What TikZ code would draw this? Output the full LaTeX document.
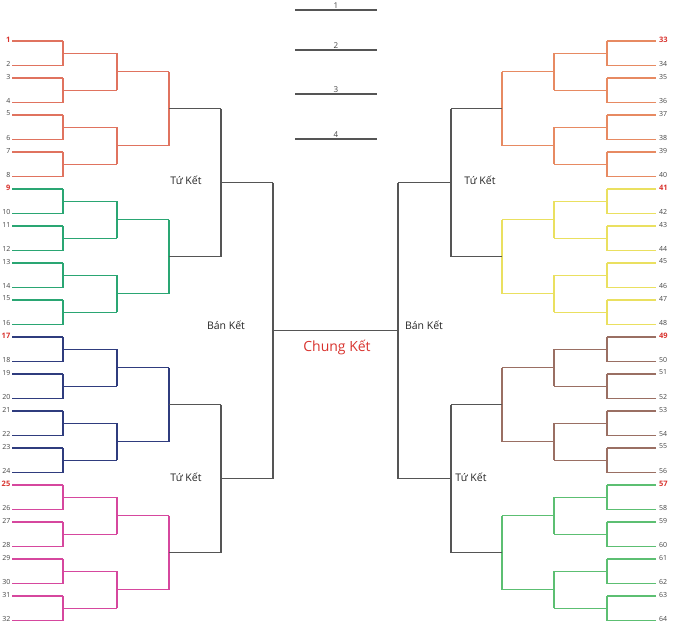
\documentclass[tikz,border=0pt]{standalone}
\usepackage{fontspec}
\setmainfont{Open Sans}
\usetikzlibrary{positioning,calc}

\definecolor{grp0}{HTML}{E0735F}
\definecolor{grp1}{HTML}{2AA673}
\definecolor{grp2}{HTML}{2F3C7E}
\definecolor{grp3}{HTML}{D6479E}
\definecolor{grp4}{HTML}{E78A62}
\definecolor{grp5}{HTML}{EAE060}
\definecolor{grp6}{HTML}{9A6F63}
\definecolor{grp7}{HTML}{5CBF72}
\definecolor{linegray}{HTML}{555555}
\definecolor{numgray}{HTML}{444444}
\definecolor{seedred}{HTML}{D8332E}

\tikzset{
  bline/.style={line width=1.2pt},
  num/.style={font=\fontsize{7}{8}\selectfont, text=numgray, inner sep=0pt},
  seednum/.style={font=\fontsize{7.5}{8}\selectfont\bfseries, text=seedred, inner sep=0pt},
  roundlbl/.style={font=\fontsize{10.5}{12}\selectfont, text=black!85},
}

\begin{document}
\begin{tikzpicture}[x=1pt,y=-1pt]
    \useasboundingbox (0,0) rectangle (673,624);

    % places 1-4
    \foreach \k/\y in {1/10,2/50,3/94,4/139} {
        \coordinate (p\k a) at (295,\y);
        \coordinate (p\k b) at (377,\y);
        \draw[bline, linegray] (p\k a) -- node[above=1pt, num, font=\fontsize{8}{9}\selectfont] (place\k) {\k} (p\k b);
    }

    % both halves of the bracket
    \foreach \s/\xo/\xa/\xb/\xc/\xd/\xe/\xt/\anc/\base in
        {L/12/63/117/169/221/273/10.5/east/0, R/656/607/554/502/451/398/659/west/32} {
        % first round lines
        \foreach \i in {0,...,31} {
            \pgfmathsetmacro\y{41+37*floor(\i/2)+24.5*mod(\i,2)}
            \pgfmathtruncatemacro\n{\base+\i+1}
            \pgfmathtruncatemacro\g{floor((\n-1)/8)}
            \pgfmathtruncatemacro\sd{mod(\i,8)}
            \ifnum\sd=0 \tikzset{cur/.style={seednum}}\else\tikzset{cur/.style={num}}\fi
            \coordinate (\s o\i) at (\xo,\y);
            \coordinate (\s r0m\i) at (\xa,\y);
            \node[cur, anchor=\anc] (n\n) at (\xt,\y-1.5) {\n};
            \draw[bline, grp\g] (\s o\i) -- (\s r0m\i);
        }
        % later rounds
        \foreach \r/\cnt/\yo/\dy/\xn/\per in
            {1/15/53.25/37/\xb/4, 2/7/71.75/74/\xc/2, 3/3/108.75/148/\xd/1, 4/1/182.75/296/\xe/1} {
            \foreach \j in {0,...,\cnt} {
                \pgfmathtruncatemacro\p{\r-1}
                \pgfmathtruncatemacro\ja{2*\j}
                \pgfmathtruncatemacro\jb{2*\j+1}
                \pgfmathtruncatemacro\g{\base/8+floor(\j/\per)}
                \ifnum\r<4 \def\cv{grp\g}\else\def\cv{linegray}\fi
                \ifnum\r<3 \def\ch{grp\g}\else\def\ch{linegray}\fi
                \coordinate (\s r\r m\j) at (\xn,\yo+\dy*\j);
                \draw[bline, draw=\cv] (\s r\p m\ja) -- (\s r\p m\jb);
                \draw[bline, draw=\ch] (\s r\p m\ja |- \s r\r m\j) -- (\s r\r m\j);
            }
        }
        % semi final
        \coordinate (\s sf) at (\xe,330.75);
        \draw[bline, linegray] (\s r4m0) -- (\s r4m1);
    }

    % final
    \draw[bline, linegray] (Lsf) -- (Rsf);

    \node[roundlbl] (qf1) at (186,180) {Tứ Kết};
    \node[roundlbl] (qf2) at (186,477) {Tứ Kết};
    \node[roundlbl] (qf3) at (480,180) {Tứ Kết};
    \node[roundlbl] (qf4) at (471,477) {Tứ Kết};
    \node[roundlbl] (sf1) at (226,325) {Bán Kết};
    \node[roundlbl] (sf2) at (424,325) {Bán Kết};
    \node[font=\fontsize{14}{16}\selectfont, text=seedred] (fin) at (337,347) {Chung Kết};
\end{tikzpicture}
\end{document}
